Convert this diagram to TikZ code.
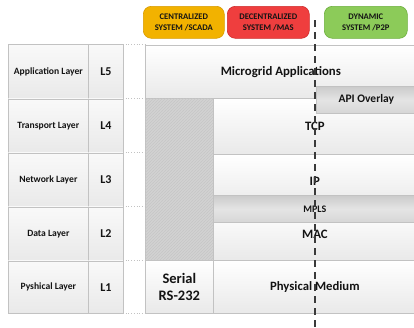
\documentclass[tikz,border=0pt]{standalone}
\usepackage{fontspec}
\setmainfont{Carlito}
\usetikzlibrary{patterns}

\definecolor{linegray}{HTML}{C2C2C2}
\definecolor{cellbot}{HTML}{E9E9E9}
\definecolor{celltop}{HTML}{F9F9F9}
\definecolor{ovtop}{HTML}{CBCBCB}
\definecolor{ovmid}{HTML}{E4E4E4}
\definecolor{ovbot}{HTML}{D6D6D6}
\definecolor{hatchbg}{HTML}{D2D2D2}
\definecolor{hatchln}{HTML}{C6C6C6}
\definecolor{txt}{HTML}{141414}
\definecolor{centfill}{HTML}{F2B200}
\definecolor{centline}{HTML}{D89C00}
\definecolor{decfill}{HTML}{EF3E3E}
\definecolor{decline}{HTML}{CF2C2C}
\definecolor{dynfill}{HTML}{8CCB59}
\definecolor{dynline}{HTML}{6DAF3E}
\definecolor{dashgray}{HTML}{3A3A3A}

\tikzset{
  cell/.style={draw=linegray, line width=0.7pt, top color=celltop, bottom color=cellbot,
    anchor=north west, inner sep=0pt, align=center, text=txt,
    font=\bfseries\fontsize{9.6}{11}\selectfont},
  lnum/.style={cell, font=\bfseries\fontsize{12}{14}\selectfont},
  proto/.style={cell, top color=white, bottom color=cellbot,
    font=\bfseries\fontsize{12.8}{15}\selectfont},
  overlay/.style={cell, top color=ovtop, bottom color=ovbot, middle color=ovmid,
    font=\bfseries\fontsize{11.5}{13}\selectfont},
  hatchbox/.style={draw=linegray, line width=0.7pt, fill=hatchbg, anchor=north west,
    inner sep=0pt, postaction={pattern=north east lines, pattern color=hatchln}},
  header/.style={rounded corners=8pt, line width=0.6pt, anchor=north west, inner sep=0pt,
    align=center, text=txt, font=\bfseries\fontsize{8.6}{11.5}\selectfont,
    minimum height=32pt},
  gapline/.style={draw=linegray, line width=0.7pt, dotted},
  dashline/.style={draw=dashgray, line width=1.1pt, dash pattern=on 7pt off 5pt},
}

\begin{document}
\begin{tikzpicture}[x=1pt, y=-1pt]
  \useasboundingbox (0,0) rectangle (414,327);
  \clip (0,0) rectangle (414,327);
  \fill[white] (0,0) rectangle (414,327);

  % system headers
  \node[header, fill=centfill, draw=centline, minimum width=81pt] (cent) at (143,6)
    {CENTRALIZED\\SYSTEM /SCADA};
  \node[header, fill=decfill, draw=decline, minimum width=82pt] (dec) at (227,6)
    {DECENTRALIZED\\SYSTEM /MAS};
  \node[header, fill=dynfill, draw=dynline, minimum width=83pt] (dyn) at (324,6)
    {DYNAMIC\\SYSTEM /P2P};

  % OSI layer names
  \node[cell, minimum width=80pt, minimum height=54.5pt] (n5) at (8,44) {Application Layer};
  \node[cell, minimum width=80pt, minimum height=54pt] (n4) at (8,98.5) {Transport Layer};
  \node[cell, minimum width=80pt, minimum height=54pt] (n3) at (8,152.5) {Network Layer};
  \node[cell, minimum width=80pt, minimum height=54pt] (n2) at (8,206.5) {Data Layer};
  \node[cell, minimum width=80pt, minimum height=52.5pt] (n1) at (8,260.5) {Pyshical Layer};

  % layer numbers
  \node[lnum, minimum width=35pt, minimum height=54.5pt] (l5) at (88,44) {L5};
  \node[lnum, minimum width=35pt, minimum height=54pt] (l4) at (88,98.5) {L4};
  \node[lnum, minimum width=35pt, minimum height=54pt] (l3) at (88,152.5) {L3};
  \node[lnum, minimum width=35pt, minimum height=54pt] (l2) at (88,206.5) {L2};
  \node[lnum, minimum width=35pt, minimum height=52.5pt] (l1) at (88,260.5) {L1};

  % empty spacer column
  \foreach \yy in {44.5,98.5,152.5,206.5,260.5,313}
    \draw[gapline] (123,\yy) -- (145,\yy);

  % protocol stack
  \node[proto, minimum width=271pt, minimum height=53pt] (app) at (145,45) {Microgrid Applications};
  \node[hatchbox, minimum width=68pt, minimum height=162pt] (legacy) at (145,98) {};
  \node[proto, minimum width=203pt, minimum height=56pt] (tcp) at (213,98) {TCP};
  \node[proto, minimum width=203pt, minimum height=53pt] (ip) at (213,154) {IP};
  \node[proto, minimum width=203pt, minimum height=53pt] (mac) at (213,207) {MAC};
  \node[proto, minimum width=68pt, minimum height=53pt,
        font=\bfseries\fontsize{14.5}{17}\selectfont] (serial) at (145,260) {Serial\\RS-232};
  \node[proto, minimum width=203pt, minimum height=53pt,
        font=\bfseries\fontsize{12.7}{15}\selectfont] (phy) at (213,260) {Physical Medium};

  % overlays
  \node[overlay, minimum width=100pt, minimum height=27pt] (api) at (316,86) {API Overlay};
  \node[overlay, minimum width=203pt, minimum height=27pt,
        font=\bfseries\fontsize{10}{12}\selectfont] (mpls) at (213,195) {MPLS};

  % boundary of the dynamic system
  \coordinate (dtop) at (315,20);
  \coordinate (dbot) at (315,330);
  \draw[dashline] (dtop) -- (dbot);
\end{tikzpicture}
\end{document}
